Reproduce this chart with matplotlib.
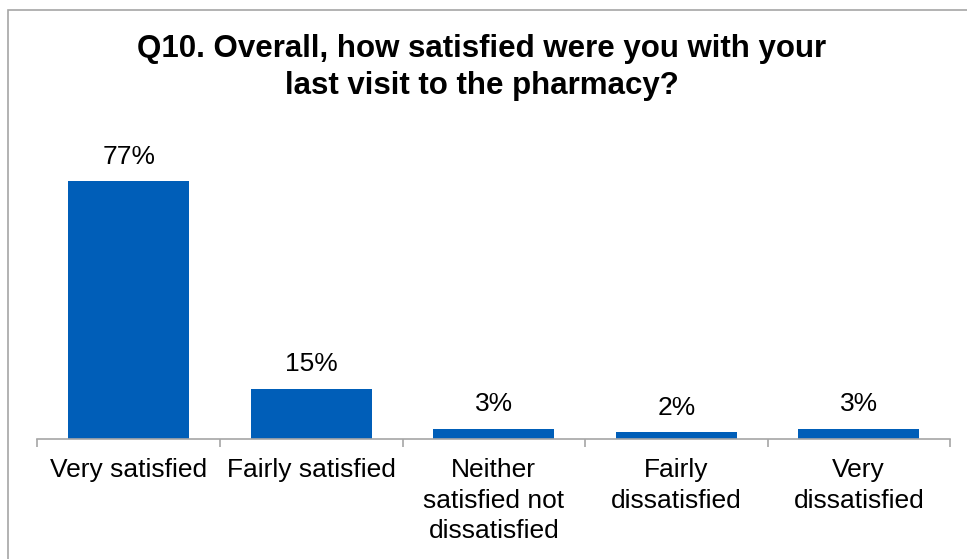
import numpy as np
import matplotlib.pyplot as plt
from matplotlib.patches import Rectangle

# data
categories = ["Very satisfied", "Fairly satisfied", "Neither\nsatisfied not\ndissatisfied",
              "Fairly\ndissatisfied", "Very\ndissatisfied"]
values = [77, 15, 3, 2, 3]
labels = ["77%", "15%", "3%", "2%", "3%"]

plt.rcParams['font.family'] = ['Liberation Sans', 'DejaVu Sans']

fig = plt.figure(figsize=(9.67, 5.59), dpi=100)

# border of chart area
fig.add_artist(Rectangle((8 / 967, -0.1), 1.1, 1 - 10 / 559 + 0.1, transform=fig.transFigure,
                         fill=False, edgecolor='#A6A6A6', linewidth=1.2))

ax = fig.add_axes([37.5 / 967, 120 / 559, 912.5 / 967, 301.5 / 559])
x = np.arange(len(categories))
ax.bar(x, values, width=0.665, color='#005EB8')

for xi, v, lab in zip(x, values, labels):
    ax.annotate(lab, (xi, v), xytext=(0, 9), textcoords='offset points',
                ha='center', va='bottom', fontsize=19)

ax.set_xlim(-0.5, len(categories) - 0.5)
ax.set_ylim(0, 90)
ax.set_yticks([])
for s in ['top', 'right', 'left']:
    ax.spines[s].set_visible(False)
ax.spines['bottom'].set_color('#A6A6A6')
ax.spines['bottom'].set_linewidth(1.2)

ax.set_xticks(x)
ax.set_xticklabels(categories, fontsize=19, linespacing=1.33, va='top')
ax.tick_params(axis='x', which='major', length=0, pad=14)
ax.set_xticks(np.arange(-0.5, len(categories)), minor=True)
ax.tick_params(axis='x', which='minor', length=6, width=1.2, color='#A6A6A6')

fig.text(0.498, 0.88, "Q10. Overall, how satisfied were you with your\nlast visit to the pharmacy?",
         ha='center', va='center', fontsize=22.5, fontweight='bold', linespacing=1.3)

fig.savefig("out.png", dpi=100)
